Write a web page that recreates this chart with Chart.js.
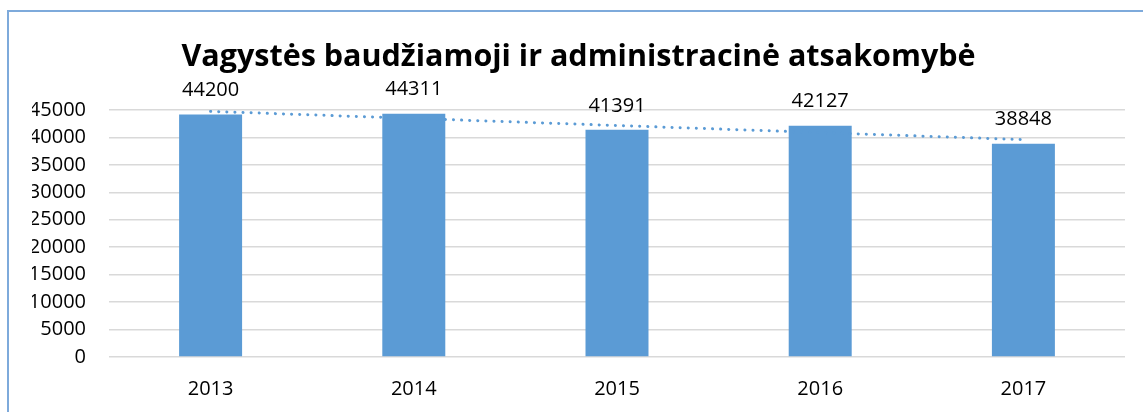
<!DOCTYPE html>
<html>
<head>
<meta charset="utf-8">
<script src="https://cdn.jsdelivr.net/npm/chart.js@4/dist/chart.umd.min.js"></script>
<style>
  html, body { margin: 0; padding: 0; background: #fff; }
  #wrap { width: 1143px; height: 412px; position: relative; }
</style>
</head>
<body>
<div id="wrap"><canvas id="chart"></canvas></div>
<script>
// data
const years = ["2013", "2014", "2015", "2016", "2017"];
const values = [44200, 44311, 41391, 42127, 38848];
// dotted trend line, ends
const trendValues = [44750, null, null, null, 39600];
const yTicks = [0, 5000, 10000, 15000, 20000, 25000, 30000, 35000, 40000, 45000];

const blue = "#5b9bd5";
const font = "'Open Sans', 'Liberation Sans', sans-serif";

// frame line on top and left like the original
const framePlugin = {
  id: "frame",
  beforeDraw(chart) {
    const ctx = chart.ctx;
    ctx.save();
    ctx.strokeStyle = "#7eaadb";
    ctx.lineWidth = 2;
    ctx.beginPath();
    ctx.moveTo(8, chart.height);
    ctx.lineTo(8, 11);
    ctx.lineTo(chart.width, 11);
    ctx.stroke();
    ctx.restore();
  }
};

// value above each bar
const labelPlugin = {
  id: "barLabels",
  afterDatasetsDraw(chart) {
    const ctx = chart.ctx;
    const meta = chart.getDatasetMeta(1);
    ctx.save();
    ctx.font = "20px " + font;
    ctx.fillStyle = "#000";
    ctx.textAlign = "center";
    ctx.textBaseline = "middle";
    meta.data.forEach((bar, i) => {
      ctx.fillText(String(values[i]), bar.x, bar.y - 24);
    });
    ctx.restore();
  }
};

new Chart(document.getElementById("chart"), {
  data: {
    labels: years,
    datasets: [
      {
        type: "line",
        data: trendValues,
        spanGaps: true,
        borderColor: blue,
        borderWidth: 3,
        borderDash: [0.1, 8],
        borderCapStyle: "round",
        pointRadius: 0,
        fill: false,
        order: 0
      },
      {
        type: "bar",
        data: values,
        backgroundColor: blue,
        categoryPercentage: 1,
        barPercentage: 0.31,
        order: 1
      }
    ]
  },
  options: {
    responsive: true,
    maintainAspectRatio: false,
    animation: false,
    layout: { padding: { left: 32, right: 18, top: 0, bottom: 0 } },
    plugins: {
      legend: { display: false },
      tooltip: { enabled: false },
      title: {
        display: true,
        text: "Vagystės baudžiamoji ir administracinė atsakomybė",
        color: "#000",
        font: { family: font, size: 30.5, weight: "bold", lineHeight: 1.2 },
        padding: { top: 39, bottom: 34.4 }
      }
    },
    scales: {
      x: {
        afterFit(scale) { scale.height = 55; },
        grid: { display: false, drawTicks: false },
        border: { display: false },
        ticks: { color: "#000", padding: 20, font: { family: font, size: 20 } }
      },
      y: {
        min: 0,
        max: 45000,
        afterFit(scale) { scale.width = 77; },
        afterBuildTicks(scale) { scale.ticks = yTicks.map(v => ({ value: v })); },
        grid: { color: "#d9d9d9", lineWidth: 1.5, drawTicks: false },
        border: { display: false },
        ticks: {
          color: "#000",
          padding: 23,
          autoSkip: false,
          font: { family: font, size: 20 },
          callback: v => String(v)
        }
      }
    }
  },
  plugins: [framePlugin, labelPlugin]
});
</script>
</body>
</html>
